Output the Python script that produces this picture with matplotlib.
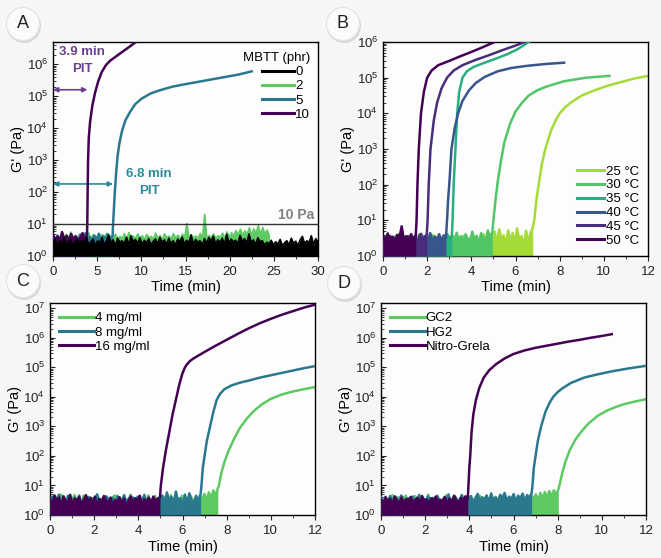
import numpy as np
import matplotlib
matplotlib.use("Agg")
import matplotlib.pyplot as plt
from matplotlib.patches import Circle
from matplotlib.transforms import IdentityTransform

plt.rcParams['font.family'] = ['Liberation Sans', 'DejaVu Sans']

W, H = 661, 558

# ---------------- data ----------------
PURPLE = '#440154'
TEAL = '#2a788e'
GREEN = '#5ec962'

# Panel A : MBTT loading (phr), time in min, G' in Pa
a_labels = ['0', '2', '5', '10']
a_onset = {'2': 24.5, '5': 6.75, '10': 3.85}
a_noise_0 = [2.6, 3.4, 2.1, 3.0, 2.4, 3.7, 2.2, 2.9, 3.3, 2.0, 2.7, 3.5, 2.3, 3.1, 2.5, 3.9, 2.2, 2.8, 3.4, 2.1,
             3.0, 2.6, 3.8, 2.3, 2.9, 4.5, 2.5, 3.2, 2.1, 3.6, 2.7, 3.0, 2.4, 3.9, 2.2, 4.3, 2.8, 3.3, 2.5, 3.7,
             2.3, 3.1, 2.6, 3.5, 2.2, 2.9, 3.4, 2.4, 3.8, 2.7, 3.2, 2.3, 3.6, 2.5, 3.0, 2.2, 3.4, 2.8, 3.9, 2.4,
             3.1, 2.6, 4.6, 2.3, 3.3, 2.7, 3.0, 2.2, 3.5, 2.5, 3.8, 2.9, 4.2, 2.4, 3.2, 2.7, 3.6, 2.3, 4.8, 2.6,
             3.4, 2.8, 3.1, 2.4, 4.4, 2.9, 3.5, 2.5, 4.9, 2.7, 3.2, 2.3, 3.7, 2.8, 3.0, 2.2, 2.7, 2.4, 3.1, 2.2,
             2.8, 2.3, 3.3, 2.1, 2.6, 3.0, 2.2, 3.6, 2.5, 2.9, 2.1, 3.2, 4.1, 2.4, 3.0, 2.6, 4.3, 2.3, 3.5, 2.7]
a_noise_2 = [3.9, 3.2, 4.5, 3.6, 4.1, 3.0, 4.8, 3.5, 5.6, 3.3, 4.2, 3.7, 4.9, 3.1, 4.4, 3.8, 5.3, 3.4, 4.6, 3.6,
             4.0, 3.2, 4.7, 3.5, 5.1, 3.3, 4.3, 3.7, 4.8, 3.4, 4.1, 3.6, 5.0, 3.2, 5.4, 3.8, 4.2, 3.5, 4.9, 3.6,
             4.3, 3.3, 4.7, 3.8, 4.1, 3.4, 5.2, 3.6, 4.4, 3.2, 4.9, 3.7, 4.2, 3.5, 5.0, 3.6, 4.5, 3.3, 4.8, 3.7,
             10.5, 3.4, 4.6, 3.8, 4.2, 3.5, 5.1, 3.6, 20.0, 3.3, 4.4, 3.7, 4.9, 3.5, 4.3, 3.8, 5.2, 3.6, 5.7, 3.9,
             5.3, 4.1, 6.2, 4.6, 6.9, 4.4, 6.1, 4.8, 7.6, 4.5, 7.0, 5.0, 9.0, 4.7, 7.8, 4.9, 6.5, 4.2]
a_noise_5 = [3.6, 2.8, 4.3, 3.1, 4.9, 2.7, 3.8, 3.2, 4.5, 2.9, 3.7, 3.3, 4.6, 2.8, 5.1, 3.4, 3.9, 2.9, 4.4, 3.2,
             5.0, 3.0, 4.2, 3.5, 4.8, 3.1, 4.4]
a_noise_10 = [4.8, 3.2, 4.1, 2.9, 5.6, 3.4, 4.3, 3.0, 4.9, 3.3, 4.2, 2.8, 3.7, 5.2, 3.1, 4.4]
a_t_5 = [6.8, 6.9, 7.0, 7.15, 7.3, 7.5, 7.8, 8.2, 8.7, 9.3, 10.0, 11.0, 12.0,
         13.5, 15.0, 17.0, 19.0, 21.0, 22.5]
a_lg_5 = [1.0, 1.5, 2.0, 2.6, 3.1, 3.5, 3.9, 4.25, 4.5, 4.75, 4.92, 5.08, 5.18,
          5.3, 5.38, 5.48, 5.58, 5.68, 5.78]
a_t_10 = [3.88, 3.92, 3.97, 4.05, 4.2, 4.45, 4.75, 5.1, 5.5, 6.0, 6.5, 7.0, 7.5,
          8.0, 8.5, 9.0, 9.5]
a_lg_10 = [1.0, 2.0, 3.0, 3.7, 4.2, 4.7, 5.1, 5.45, 5.75, 5.98, 6.12, 6.22, 6.32,
           6.42, 6.52, 6.62, 6.72]

# Panel B : temperature series
b_labels = ['25 °C', '30 °C', '35 °C', '40 °C', '45 °C', '50 °C']
b_colors = ['#a5db36', '#52c569', '#29af7f', '#39568c', '#472d7b', '#440154']
b_onset = [6.78, 4.95, 3.12, 2.85, 1.98, 1.48]
b_noise = [
    [2.6, 3.4, 2.1, 3.8, 2.9, 1.8, 3.1, 4.2, 2.4, 3.0, 2.2, 3.6, 2.8, 1.9, 3.3, 2.7, 4.0, 2.3, 3.1, 2.6,
     3.5, 2.0, 2.9, 3.8, 2.4, 3.2, 1.7, 3.0, 2.5, 3.9, 2.8, 2.2, 3.4, 2.6, 3.1, 2.0, 3.7, 2.9, 2.3, 3.3,
     2.7, 3.6, 2.1, 3.0, 2.5, 4.1, 2.8, 2.2, 3.5, 2.6, 4.8, 2.3, 5.6, 2.9, 3.8, 1.9, 5.2, 2.6, 4.4, 2.2,
     5.9, 2.8, 3.6, 1.8, 5.1, 2.5, 4.3, 6.2],
    [3.1, 2.4, 3.7, 2.0, 2.9, 3.5, 2.3, 3.2, 2.7, 3.9, 2.2, 3.0, 2.6, 3.4, 1.9, 3.3, 2.8, 2.1, 3.6, 2.5,
     3.0, 2.3, 3.8, 2.7, 2.0, 3.2, 2.6, 3.5, 2.2, 3.1, 2.8, 3.9, 2.4, 4.5, 2.9, 3.6, 2.2, 4.1, 3.0, 2.5,
     4.8, 2.7, 3.7, 2.3, 4.4, 3.1, 2.6, 5.2, 3.4, 4.6],
    [2.7, 3.3, 2.1, 3.6, 2.5, 3.0, 2.2, 3.8, 2.8, 2.4, 3.4, 2.0, 3.1, 2.7, 3.5, 2.3, 2.9, 3.7, 2.2, 3.2,
     2.6, 3.9, 2.4, 3.0, 2.8, 3.4, 2.1, 3.3, 4.1, 2.9, 3.8],
    [3.0, 2.4, 3.5, 2.1, 2.8, 3.3, 2.6, 3.9, 2.2, 3.1, 2.7, 3.6, 2.3, 2.9, 3.4, 2.0, 3.2, 4.2, 2.5, 3.7,
     2.8, 4.4, 2.3, 3.5, 3.0, 4.1, 2.6, 3.8, 3.3],
    [2.5, 3.2, 2.0, 3.6, 2.7, 3.0, 2.3, 3.8, 2.6, 3.1, 2.2, 3.5, 2.9, 2.4, 3.7, 2.1, 4.0, 2.8, 3.4, 3.9],
    [3.8, 2.6, 4.3, 2.9, 3.5, 2.4, 3.9, 3.1, 6.8, 2.7, 3.6, 2.5, 4.1, 3.0, 3.4],
]
b_t = [
    [6.85, 6.95, 7.05, 7.2, 7.35, 7.6, 7.8, 8.0, 8.25, 8.5, 9.0, 9.6, 10.2, 10.8, 11.4, 12.0],
    [5.0, 5.1, 5.2, 5.35, 5.5, 5.75, 6.0, 6.3, 6.6, 7.0, 7.4, 8.2, 9.2, 10.25],
    [3.15, 3.2, 3.28, 3.36, 3.45, 3.6, 3.8, 4.1, 4.6, 5.1, 5.6, 6.1, 6.6],
    [2.9, 2.95, 3.0, 3.1, 3.25, 3.4, 3.6, 3.9, 4.2, 4.6, 5.2, 5.8, 6.5, 7.3, 8.2],
    [2.02, 2.07, 2.15, 2.3, 2.45, 2.65, 2.9, 3.2, 3.6, 4.2, 4.8, 5.4, 6.0, 6.4],
    [1.52, 1.56, 1.62, 1.72, 1.85, 2.0, 2.2, 2.5, 3.0, 3.5, 4.0, 4.5, 5.05],
]
b_lg = [
    [1.0, 1.6, 2.0, 2.6, 3.0, 3.5, 3.78, 4.0, 4.17, 4.3, 4.5, 4.65, 4.78, 4.88, 4.98, 5.05],
    [1.0, 1.6, 2.1, 2.7, 3.2, 3.7, 4.05, 4.3, 4.5, 4.65, 4.75, 4.9, 5.0, 5.05],
    [1.0, 2.0, 3.0, 4.0, 4.6, 5.0, 5.18, 5.3, 5.42, 5.53, 5.65, 5.8, 6.0],
    [1.0, 1.6, 2.0, 3.0, 3.6, 4.0, 4.35, 4.65, 4.85, 5.02, 5.18, 5.27, 5.33, 5.38, 5.42],
    [1.0, 2.0, 3.0, 3.8, 4.3, 4.7, 5.0, 5.2, 5.35, 5.5, 5.63, 5.77, 5.9, 6.0],
    [1.0, 2.0, 3.0, 4.0, 4.6, 5.0, 5.2, 5.35, 5.47, 5.6, 5.72, 5.85, 6.0],
]

# Panel C : catalyst concentration
c_labels = ['4 mg/ml', '8 mg/ml', '16 mg/ml']
c_onset = [7.6, 6.82, 4.98]
c_noise = [
    [3.8, 2.5, 4.4, 3.0, 2.2, 4.9, 3.3, 2.7, 4.1, 2.4, 3.6, 4.7, 2.9, 3.2, 2.1, 4.5, 3.7, 2.6, 4.0, 3.1,
     2.3, 4.8, 2.8, 3.5, 2.5, 4.2, 3.0, 2.2, 3.9, 4.6, 2.7, 3.4, 2.4, 4.3, 3.1, 2.8, 4.9, 2.3, 3.6, 3.0,
     4.1, 2.5, 3.8, 2.9, 4.6, 2.2, 3.3, 4.4, 2.7, 3.7, 2.4, 4.0, 3.2, 2.6, 4.7, 3.0, 2.3, 3.9, 2.8, 4.5,
     2.5, 3.6, 3.1, 4.2, 2.7, 3.8, 2.9, 4.6, 3.3, 5.2, 2.8, 5.9, 3.6, 6.8, 4.5, 8.0],
    [2.9, 4.2, 2.3, 3.6, 4.9, 2.7, 3.3, 2.0, 4.5, 3.1, 2.5, 3.9, 2.8, 4.6, 2.2, 3.4, 3.0, 4.1, 2.4, 3.7,
     2.9, 5.0, 2.6, 3.2, 2.1, 4.3, 3.5, 2.7, 3.8, 2.3, 4.4, 2.8, 3.1, 4.7, 2.5, 3.6, 2.2, 3.9, 3.0, 4.2,
     2.6, 3.3, 4.8, 2.4, 3.7, 2.9, 4.0, 2.3, 3.5, 2.8, 4.6, 2.2, 5.8, 3.0, 4.1, 2.5, 6.2, 2.8, 3.7, 2.1,
     4.9, 2.6, 5.4, 3.2, 2.4, 4.5, 2.9, 5.1],
    [3.4, 2.1, 4.6, 2.8, 3.9, 1.8, 4.3, 3.0, 2.5, 4.8, 2.2, 3.6, 2.9, 4.1, 2.0, 3.3, 4.7, 2.6, 3.8, 2.3,
     4.2, 1.9, 3.5, 2.7, 4.4, 3.1, 2.4, 3.9, 2.0, 3.2, 2.8, 4.0, 2.3, 3.6, 1.8, 3.0, 4.3, 2.5, 3.7, 2.9,
     4.5, 2.2, 3.4, 2.7, 3.9, 2.1, 4.2, 3.0, 3.6, 4.0],
]
c_t = [
    [7.65, 7.75, 7.9, 8.1, 8.35, 8.6, 8.9, 9.2, 9.6, 10.0, 10.5, 11.0, 11.5, 12.0],
    [6.86, 6.92, 7.0, 7.1, 7.25, 7.4, 7.55, 7.7, 7.9, 8.2, 8.6, 9.0, 9.5, 10.0, 10.5,
     11.0, 11.5, 12.0],
    [5.02, 5.12, 5.25, 5.4, 5.55, 5.7, 5.85, 6.0, 6.1, 6.2, 6.35, 6.5, 7.0, 7.5, 8.0, 8.5,
     9.0, 9.5, 10.0, 10.5, 11.0, 11.5, 12.0],
]
c_lg = [
    [1.0, 1.4, 1.8, 2.2, 2.6, 2.95, 3.25, 3.5, 3.75, 3.93, 4.08, 4.18, 4.26, 4.33],
    [1.0, 1.6, 2.0, 2.5, 3.0, 3.5, 3.9, 4.1, 4.26, 4.38, 4.48, 4.55, 4.65, 4.73, 4.81,
     4.89, 4.97, 5.04],
    [1.0, 1.6, 2.2, 2.8, 3.4, 3.9, 4.4, 4.8, 4.98, 5.1, 5.22, 5.3, 5.52, 5.73, 5.93, 6.13,
     6.32, 6.49, 6.64, 6.78, 6.9, 7.02, 7.12],
]

# Panel D : catalyst type
d_labels = ['GC2', 'HG2', 'Nitro-Grela']
d_onset = [8.03, 6.82, 3.93]
d_noise = [
    [3.5, 2.6, 4.2, 3.1, 2.3, 4.7, 3.4, 2.8, 4.0, 2.5, 3.7, 4.5, 3.0, 3.3, 2.2, 4.4, 3.8, 2.7, 4.1, 3.2,
     2.4, 4.9, 2.9, 3.6, 2.6, 4.3, 3.1, 2.3, 3.8, 4.6, 2.8, 3.5, 2.5, 4.2, 3.2, 2.9, 4.8, 2.4, 3.7, 3.1,
     4.0, 2.6, 3.9, 3.0, 4.5, 2.3, 3.4, 4.3, 2.8, 3.8, 2.5, 4.1, 3.3, 2.7, 4.6, 3.1, 2.4, 3.8, 2.9, 4.4,
     2.6, 3.7, 3.2, 4.3, 2.8, 3.9, 3.0, 4.7, 3.4, 5.0, 2.9, 5.6, 3.5, 6.0, 3.8, 6.5, 4.2, 6.9, 4.8, 7.2],
    [4.1, 2.7, 3.5, 2.3, 4.4, 3.0, 2.6, 3.9, 2.2, 4.6, 3.2, 2.8, 3.7, 2.4, 4.2, 3.4, 2.9, 4.8, 2.5, 3.6,
     3.0, 4.3, 2.3, 3.8, 2.7, 4.5, 3.1, 2.4, 3.9, 2.8, 5.0, 2.6, 3.5, 4.1, 2.9, 3.3, 4.7, 2.5, 3.8, 3.0,
     4.4, 2.7, 3.6, 5.2, 2.8, 4.0, 3.2, 4.6, 2.6, 5.4, 3.1, 3.9, 2.7, 4.8, 3.3, 5.6, 2.9, 4.2, 3.4, 5.1,
     2.8, 4.5, 3.6, 5.3, 3.0, 4.7, 3.8, 5.5],
    [3.3, 2.4, 4.0, 2.8, 3.6, 2.2, 4.3, 3.0, 2.6, 3.9, 2.3, 3.5, 2.9, 4.1, 2.5, 3.2, 3.8, 2.4, 4.4, 2.8,
     3.4, 2.2, 3.7, 3.0, 4.2, 2.6, 3.3, 2.9, 4.0, 2.3, 3.6, 2.7, 4.5, 3.1, 2.5, 3.8, 3.2, 4.3, 3.6],
]
d_t = [
    [8.08, 8.2, 8.35, 8.55, 8.8, 9.1, 9.4, 9.8, 10.2, 10.6, 11.0, 11.5, 12.0],
    [6.86, 6.92, 7.0, 7.1, 7.25, 7.45, 7.65, 7.8, 8.0, 8.2, 8.6, 9.2, 9.8, 10.5, 11.2, 12.0],
    [3.96, 4.0, 4.04, 4.1, 4.18, 4.3, 4.45, 4.65, 4.9, 5.2, 5.6, 6.0, 6.5, 7.0,
     7.5, 8.0, 8.5, 9.0, 9.5, 10.0, 10.45],
]
d_lg = [
    [1.0, 1.4, 1.8, 2.2, 2.55, 2.85, 3.1, 3.35, 3.52, 3.65, 3.75, 3.84, 3.92],
    [1.0, 1.6, 2.0, 2.5, 3.0, 3.5, 3.82, 4.0, 4.16, 4.28, 4.47, 4.65, 4.76, 4.87, 4.96, 5.05],
    [1.0, 1.6, 2.0, 2.8, 3.4, 3.9, 4.3, 4.65, 4.9, 5.1, 5.3, 5.45, 5.57, 5.66,
     5.73, 5.8, 5.87, 5.93, 6.0, 6.06, 6.12],
]


# ---------------- helpers ----------------
def draw(ax, onset, noise, color, label, z, t_rise=(), lg_rise=(), lw=1.8):
    tn = np.linspace(0, onset, len(noise))
    t = list(tn) + list(t_rise)
    g = list(noise) + [10 ** v for v in lg_rise]
    # dense baseline noise is drawn filled down to the axis, as it renders in the original
    ax.fill_between(tn, 1, noise, color=color, lw=0, zorder=z)
    ax.plot(t, g, color=color, lw=lw, label=label, zorder=z)


def make_ax(left, top, right, bottom):
    ax = fig.add_axes([left / W, 1 - bottom / H, (right - left) / W, (bottom - top) / H])
    ax.set_facecolor('#fdfdfd')
    ax.set_yscale('log')
    ax.tick_params(axis='x', which='both', direction='out', labelsize=9.5, colors='#222222')
    ax.tick_params(axis='y', which='both', direction='in', labelsize=9.5, colors='#222222')
    ax.tick_params(which='major', length=3.5)
    ax.tick_params(which='minor', length=2)
    for s in ax.spines.values():
        s.set_linewidth(1.0)
    ax.set_ylabel("G' (Pa)", fontsize=10.5, labelpad=1)
    ax.set_xlabel('Time (min)', fontsize=10.5, labelpad=2)
    return ax


def fat_handles(leg):
    for hl in leg.legend_handles:
        hl.set_linewidth(2.2)


def badge(x, y, letter):
    fig.add_artist(Circle((x + 1, H - y - 2), 17, transform=IdentityTransform(),
                          fc='#d8d8d8', ec='none', zorder=1))
    fig.add_artist(Circle((x, H - y), 16.5, transform=IdentityTransform(),
                          fc='#fbfbfb', ec='#e2e2e2', lw=0.8, zorder=2))
    fig.text(x / W, 1 - y / H, letter, ha='center', va='center', fontsize=13,
             color='#222222', zorder=3)


fig = plt.figure(figsize=(W / 100, H / 100), dpi=100, facecolor='#f6f6f6')

# ---------------- A ----------------
ax = make_ax(53, 42, 318, 256)
draw(ax, a_onset['2'], a_noise_2, GREEN, '2', 2, lw=1.2)
draw(ax, a_onset['5'], a_noise_5, TEAL, '5', 3, a_t_5, a_lg_5)
draw(ax, a_onset['10'], a_noise_10, PURPLE, '10', 4, a_t_10, a_lg_10)
draw(ax, 30, a_noise_0, 'black', '0', 5, lw=1.2)
ax.axhline(10, color='#333333', lw=1.0, zorder=6)
ax.text(29.6, 11.5, '10 Pa', ha='right', va='bottom', fontsize=10, color='#808080',
        fontweight='bold')
ax.set_xlim(0, 30)
ax.set_ylim(1, 5e6)
ax.set_xticks(np.arange(0, 31, 5))
ax.set_xticks(np.arange(2.5, 30, 5), minor=True)
ax.annotate('', xy=(3.9, 1.6e5), xytext=(0, 1.6e5),
            arrowprops=dict(arrowstyle='<|-|>', color='#6b3f8f', lw=1.2,
                            mutation_scale=7, shrinkA=0, shrinkB=0))
ax.annotate('', xy=(6.8, 180), xytext=(0, 180),
            arrowprops=dict(arrowstyle='<|-|>', color='#2a8a9a', lw=1.2,
                            mutation_scale=7, shrinkA=0, shrinkB=0))
ax.text(3.3, 1.3e6, '3.9 min\nPIT', ha='center', va='center', fontsize=9.5,
        color='#6b3f8f', fontweight='bold', linespacing=1.5)
ax.text(10.9, 200, '6.8 min\nPIT', ha='center', va='center', fontsize=9.5,
        color='#2a8a9a', fontweight='bold', linespacing=1.5)
h, l = ax.get_legend_handles_labels()
order = [l.index(k) for k in a_labels]
leg = ax.legend([h[i] for i in order], a_labels, title='MBTT (phr)', loc='upper right',
                frameon=False, fontsize=9.5, title_fontsize=9.5, labelspacing=0.15,
                handlelength=2.4, handletextpad=0.1, borderaxespad=0.2,
                bbox_to_anchor=(1.0, 0.99))
leg._legend_box.align = 'right'
fat_handles(leg)
badge(23, 24, 'A')

# ---------------- B ----------------
ax = make_ax(383, 42, 648, 256)
for i in range(len(b_labels)):
    draw(ax, b_onset[i], b_noise[i], b_colors[i], b_labels[i], 2 + i, b_t[i], b_lg[i])
ax.set_xlim(0, 12)
ax.set_ylim(1, 1e6)
ax.set_xticks(np.arange(0, 13, 2))
ax.set_xticks(np.arange(1, 12, 2), minor=True)
fat_handles(ax.legend(loc='lower right', frameon=False, fontsize=9.5, labelspacing=0.12,
                      handlelength=2.1, handletextpad=0.1, borderaxespad=0.3))
badge(343, 24, 'B')

# ---------------- C ----------------
ax = make_ax(50, 303, 315, 515)
for i, col in enumerate([GREEN, TEAL, PURPLE]):
    draw(ax, c_onset[i], c_noise[i], col, c_labels[i], 2 + i, c_t[i], c_lg[i])
ax.set_xlim(0, 12)
ax.set_ylim(1, 1.5e7)
ax.set_xticks(np.arange(0, 13, 2))
ax.set_xticks(np.arange(1, 12, 2), minor=True)
fat_handles(ax.legend(loc='upper left', frameon=False, fontsize=9.5, labelspacing=0.15,
                      handlelength=2.6, handletextpad=0.1, borderaxespad=0.3))
badge(23, 281, 'C')

# ---------------- D ----------------
ax = make_ax(381, 303, 646, 515)
for i, col in enumerate([GREEN, TEAL, PURPLE]):
    draw(ax, d_onset[i], d_noise[i], col, d_labels[i], 2 + i, d_t[i], d_lg[i])
ax.set_xlim(0, 12)
ax.set_ylim(1, 1.5e7)
ax.set_xticks(np.arange(0, 13, 2))
ax.set_xticks(np.arange(1, 12, 2), minor=True)
fat_handles(ax.legend(loc='upper left', frameon=False, fontsize=9.5, labelspacing=0.15,
                      handlelength=2.6, handletextpad=0.1, borderaxespad=0.3))
badge(344, 283, 'D')

fig.savefig('out.png', dpi=100, facecolor=fig.get_facecolor())
